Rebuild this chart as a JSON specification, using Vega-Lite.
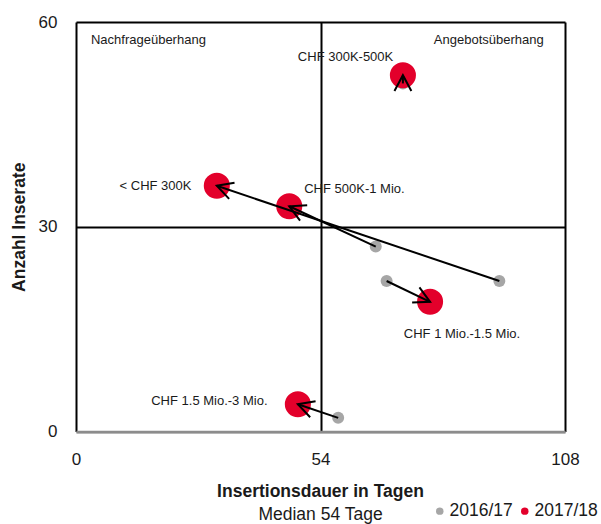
{
  "$schema": "https://vega.github.io/schema/vega-lite/v6.json",
  "width": 489,
  "height": 409.5,
  "autosize": {"type": "none"},
  "padding": {"left": 76, "top": 22, "right": 36, "bottom": 92.5},
  "background": "white",
  "config": {
    "view": {"stroke": null},
    "font": "Liberation Sans",
    "axis": {
      "labelFont": "Liberation Sans",
      "labelFontSize": 17,
      "labelColor": "#1a1a1a",
      "ticks": false,
      "tickSize": 0,
      "grid": true,
      "gridColor": "black",
      "gridWidth": 2,
      "domain": false,
      "labelFlush": false,
      "titleFont": "Liberation Sans",
      "titleFontSize": 17.5,
      "titleFontWeight": "bold",
      "titleColor": "#1a1a1a"
    }
  },
  "title": {
    "text": "Insertionsdauer in Tagen",
    "subtitle": "Median 54 Tage",
    "orient": "bottom",
    "frame": "group",
    "anchor": "middle",
    "offset": 13,
    "dy": -50,
    "font": "Liberation Sans",
    "fontSize": 17.5,
    "fontWeight": "bold",
    "color": "#1a1a1a",
    "subtitleFont": "Liberation Sans",
    "subtitleFontSize": 17.5,
    "subtitleFontWeight": "normal",
    "subtitleColor": "#1a1a1a",
    "subtitlePadding": 5
  },
  "datasets": {
    "d2016": [
      {"segment": "< CHF 300K", "dauer": 93.5, "inserate": 22.05},
      {"segment": "CHF 300K-500K", "dauer": 72.2, "inserate": 51.0},
      {"segment": "CHF 500K-1 Mio.", "dauer": 66.2, "inserate": 27.1},
      {"segment": "CHF 1 Mio.-1.5 Mio.", "dauer": 68.6, "inserate": 22.05},
      {"segment": "CHF 1.5 Mio.-3 Mio.", "dauer": 57.9, "inserate": 2.0}
    ],
    "d2017": [
      {"segment": "< CHF 300K", "dauer": 31.1, "inserate": 36.0},
      {"segment": "CHF 300K-500K", "dauer": 72.2, "inserate": 52.2},
      {"segment": "CHF 500K-1 Mio.", "dauer": 47.1, "inserate": 33.0},
      {"segment": "CHF 1 Mio.-1.5 Mio.", "dauer": 78.2, "inserate": 19.0},
      {"segment": "CHF 1.5 Mio.-3 Mio.", "dauer": 49.0, "inserate": 4.0}
    ],
    "labelsLeft": [
      {"text": "Nachfrageüberhang", "dauer": 3.3, "inserate": 57.4},
      {"text": "CHF 300K-500K", "dauer": 49.0, "inserate": 54.9},
      {"text": "CHF 500K-1 Mio.", "dauer": 50.4, "inserate": 35.5},
      {"text": "CHF 1 Mio.-1.5 Mio.", "dauer": 72.4, "inserate": 14.3}
    ],
    "labelsRight": [
      {"text": "Angebotsüberhang", "dauer": 103.3, "inserate": 57.3},
      {"text": "< CHF 300K", "dauer": 25.5, "inserate": 35.9},
      {"text": "CHF 1.5 Mio.-3 Mio.", "dauer": 42.3, "inserate": 4.4}
    ]
  },
  "layer": [
    {
      "data": {"name": "d2016"},
      "mark": {"type": "point", "shape": "circle", "filled": true, "opacity": 1, "size": 144},
      "encoding": {
        "x": {
          "field": "dauer", "type": "quantitative",
          "scale": {"domain": [0, 108], "nice": false, "zero": false},
          "axis": {
            "values": [0, 54, 108], "title": null, "labelPadding": 20,
            "domain": true, "domainColor": "#8c8c8c", "domainWidth": 2.5
          }
        },
        "y": {
          "field": "inserate", "type": "quantitative",
          "scale": {"domain": [0, 60], "nice": false, "zero": false},
          "axis": {
            "values": [0, 30, 60], "title": "Anzahl Inserate", "labelPadding": 19,
            "titleX": -57, "titleY": 204.75, "titleAngle": -90,
            "titleBaseline": "middle", "titleAlign": "center",
            "gridColor": {"condition": {"test": "datum.value === 0", "value": "#8c8c8c"}, "value": "black"}
          }
        },
        "color": {
          "datum": "2016/17", "type": "nominal",
          "scale": {"domain": ["2016/17", "2017/18"], "range": ["#A6A6A6", "#E3002B"]},
          "legend": {
            "orient": "none", "legendX": 355, "legendY": 480, "direction": "horizontal",
            "title": null, "labelFont": "Liberation Sans", "labelFontSize": 17.5,
            "labelColor": "#1a1a1a", "symbolType": "circle", "symbolSize": 56,
            "symbolStrokeWidth": 0, "labelOffset": 1, "columnPadding": 3, "padding": 0
          }
        }
      }
    },
    {
      "data": {"name": "d2017"},
      "mark": {"type": "point", "shape": "circle", "filled": true, "opacity": 1, "size": 680},
      "encoding": {
        "x": {"field": "dauer", "type": "quantitative"},
        "y": {"field": "inserate", "type": "quantitative"},
        "color": {"datum": "2017/18", "type": "nominal"}
      }
    },
    {
      "data": {"name": "d2017"},
      "transform": [
        {"lookup": "segment", "from": {"data": {"name": "d2016"}, "key": "segment", "fields": ["dauer", "inserate"]}, "as": ["dauer16", "inserate16"]}
      ],
      "mark": {"type": "rule", "color": "black", "strokeWidth": 2},
      "encoding": {
        "x": {"field": "dauer16", "type": "quantitative"},
        "y": {"field": "inserate16", "type": "quantitative"},
        "x2": {"field": "dauer"},
        "y2": {"field": "inserate"}
      }
    },
    {
      "data": {"name": "d2017"},
      "transform": [
        {"lookup": "segment", "from": {"data": {"name": "d2016"}, "key": "segment", "fields": ["dauer", "inserate"]}, "as": ["dauer16", "inserate16"]},
        {"calculate": "atan2((datum.dauer - datum.dauer16) * 489 / 108, (datum.inserate - datum.inserate16) * 409.5 / 60) * 180 / PI", "as": "winkel"}
      ],
      "mark": {
        "type": "point", "shape": "M-0.47,0.88L0,0L0.47,0.88", "filled": false,
        "stroke": "black", "strokeWidth": 2, "size": 1296, "opacity": 1
      },
      "encoding": {
        "x": {"field": "dauer", "type": "quantitative"},
        "y": {"field": "inserate", "type": "quantitative"},
        "angle": {"field": "winkel", "type": "quantitative", "scale": null}
      }
    },
    {
      "data": {"name": "labelsLeft"},
      "mark": {"type": "text", "align": "left", "baseline": "middle", "fontSize": 13, "font": "Liberation Sans", "color": "#1a1a1a"},
      "encoding": {
        "x": {"field": "dauer", "type": "quantitative"},
        "y": {"field": "inserate", "type": "quantitative"},
        "text": {"field": "text"}
      }
    },
    {
      "data": {"name": "labelsRight"},
      "mark": {"type": "text", "align": "right", "baseline": "middle", "fontSize": 13, "font": "Liberation Sans", "color": "#1a1a1a"},
      "encoding": {
        "x": {"field": "dauer", "type": "quantitative"},
        "y": {"field": "inserate", "type": "quantitative"},
        "text": {"field": "text"}
      }
    }
  ]
}
